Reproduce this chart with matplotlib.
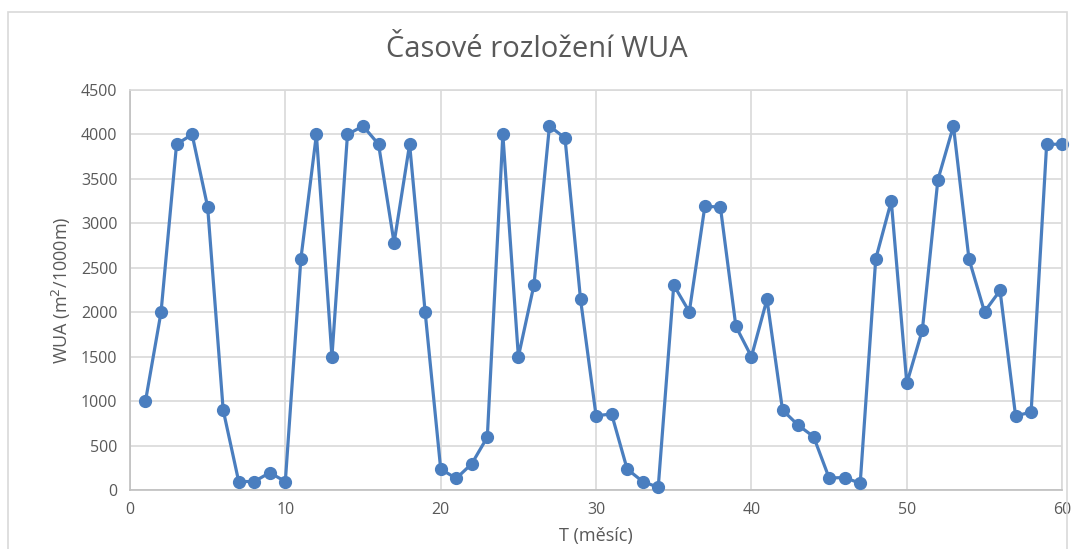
import matplotlib.pyplot as plt
from matplotlib.patches import Rectangle
import numpy as np

months = np.arange(1, 61)
wua = [1000, 2000, 3890, 4000, 3185, 900, 95, 95, 195, 95,
       2600, 4000, 1500, 4000, 4095, 3890, 2780, 3890, 2000, 235,
       130, 295, 595, 4000, 1500, 2305, 4095, 3960, 2145, 835,
       855, 235, 95, 30, 2305, 2005, 3190, 3185, 1840, 1500,
       2145, 900, 730, 600, 135, 140, 75, 2600, 3250, 1200,
       1800, 3490, 4095, 2600, 2005, 2245, 835, 875, 3890, 3890]

line_color = '#4a7ebf'
text_color = '#595959'
grid_color = '#d9d9d9'

plt.rcParams['font.family'] = ['Open Sans', 'DejaVu Sans']

fig = plt.figure(figsize=(10.74, 5.49), dpi=100)
ax = fig.add_axes([0.121, 0.1075, 0.868, 0.7285])

# outer chart border
fig.patches.append(Rectangle((8 / 1074, -0.01), 1059 / 1074, 1 - 12 / 549 + 0.01,
                             transform=fig.transFigure, fill=False,
                             edgecolor=grid_color, linewidth=1.2))

ax.plot(months, wua, color=line_color, linewidth=2.3, marker='o',
        markersize=8.5, zorder=3, clip_on=False)

ax.set_xlim(0, 60)
ax.set_ylim(0, 4500)
ax.set_xticks(np.arange(0, 61, 10))
ax.set_yticks(np.arange(0, 4501, 500))
ax.grid(True, color=grid_color, linewidth=1.2)
ax.set_axisbelow(True)
ax.tick_params(length=0, labelsize=11.5, colors=text_color, pad=9)
for side in ['top', 'right']:
    ax.spines[side].set_color(grid_color)
for side in ['left', 'bottom']:
    ax.spines[side].set_color('#bfbfbf')
for s in ax.spines.values():
    s.set_linewidth(1.2)

ax.set_xlabel('T (měsíc)', fontsize=13, color=text_color, labelpad=6)
ax.set_ylabel('WUA (m$^2$/1000m)', fontsize=13, color=text_color, labelpad=6)
fig.text(0.5, 0.91, 'Časové rozložení WUA', ha='center', va='center',
         fontsize=21, color=text_color)

fig.savefig('out.png', dpi=100)
